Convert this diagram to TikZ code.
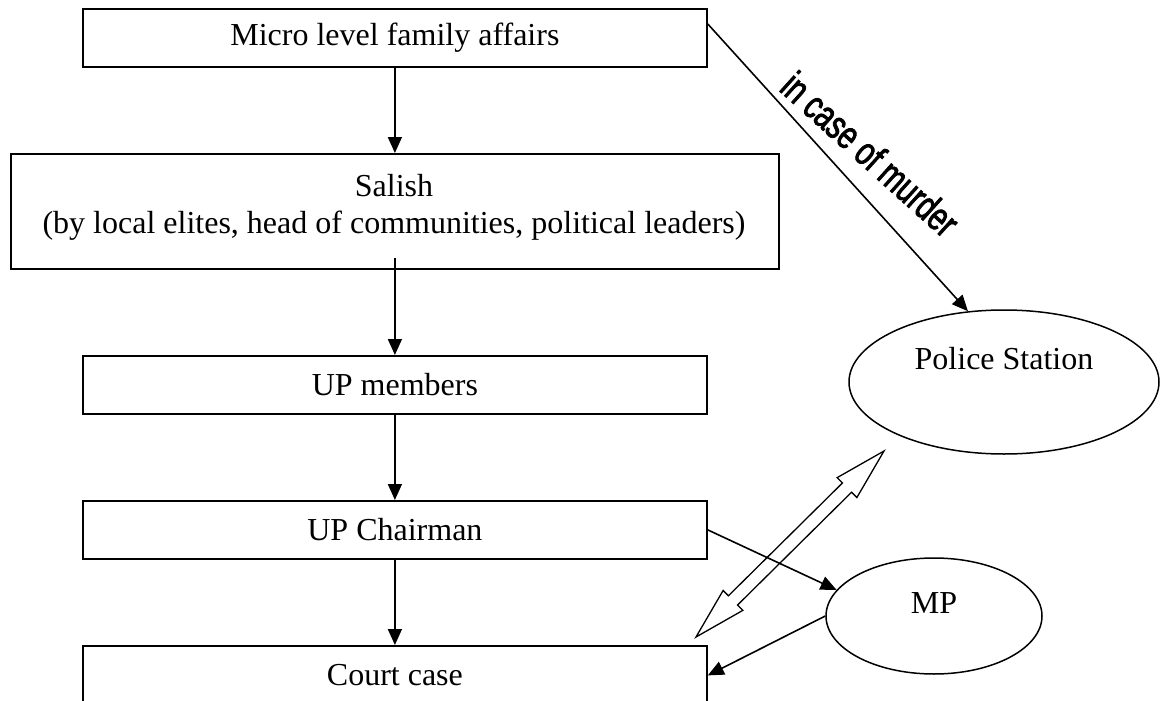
\documentclass[tikz,border=0pt]{standalone}
\usepackage{fontspec}
\setmainfont{Liberation Serif}
\newfontfamily\notefont{Liberation Sans}[FakeStretch=0.72, FakeBold=2]
\usetikzlibrary{arrows.meta,shapes.geometric,calc}
\begin{document}
\begin{tikzpicture}[x=1pt,y=-1pt,
  every node/.style={font=\fontsize{32}{37}\selectfont},
  box/.style={draw, line width=1.8pt, rectangle, inner sep=0pt, anchor=north west},
  oval/.style={draw, line width=1.5pt, ellipse, inner sep=0pt},
  link/.style={line width=1.6pt, -{Triangle[length=16pt,width=14pt]}},
  hollow/.style={draw, line width=1.3pt, line join=miter}]
\useasboundingbox (0,0) rectangle (1160,701);
\clip (0,0) rectangle (1160,701);

% main chain of boxes
\node[box, minimum width=624, minimum height=58] (micro) at (82,8) {Micro level family affairs};
\node[box, minimum width=768, minimum height=115] (salish) at (10,153) {};
\node[align=center] (salishtext) at (394,207) {Salish\\(by local elites, head of communities, political leaders)};
\node[box, minimum width=624, minimum height=58] (upm) at (82,355) {UP members};
\node[box, minimum width=624, minimum height=58] (upc) at (82,500) {UP Chairman};
\node[box, minimum width=624, minimum height=59] (court) at (82,645) {Court case};

% side actors
\node[oval, minimum width=310, minimum height=144] (ps) at (1004,382) {};
\node (pstext) at ([yshift=23pt]ps.center) {Police Station};
\node[oval, minimum width=216, minimum height=116] (mp) at (934,616) {};
\node (mptext) at ([yshift=13pt]mp.center) {MP};

% vertical flow
\draw[link] (micro.south) -- (salish.north);
\draw[link] ([yshift=12pt]salish.south) -- (upm.north);
\draw[link] (upm.south) -- (upc.north);
\draw[link] (upc.south) -- (court.north);

% murder cases go straight to the police
\draw[link] ([yshift=-16pt]micro.north east) -- (ps.117);
\node[font=\notefont\fontsize{40}{40}\selectfont, rotate=-42, anchor=base west, inner sep=0pt] (murder) at (778,90) {in case of murder};

% chairman, MP and court
\draw[link] (upc.east) -- (mp.165);
\draw[link] (mp.west) -- (court.east);

% two-way hollow arrow between court and police station
\coordinate (da1) at (696,637);
\coordinate (da2) at (884,451);
\coordinate (h1) at ($(da1)!52pt!(da2)$);
\coordinate (h2) at ($(da2)!52pt!(da1)$);
\draw[hollow] (da1)
  -- ($(h1)!14pt!90:(da2)$) -- ($(h1)!6.5pt!90:(da2)$)
  -- ($(h2)!6.5pt!90:(da2)$) -- ($(h2)!14pt!90:(da2)$)
  -- (da2)
  -- ($(h2)!14pt!-90:(da2)$) -- ($(h2)!6.5pt!-90:(da2)$)
  -- ($(h1)!6.5pt!-90:(da2)$) -- ($(h1)!14pt!-90:(da2)$)
  -- cycle;
\end{tikzpicture}
\end{document}
